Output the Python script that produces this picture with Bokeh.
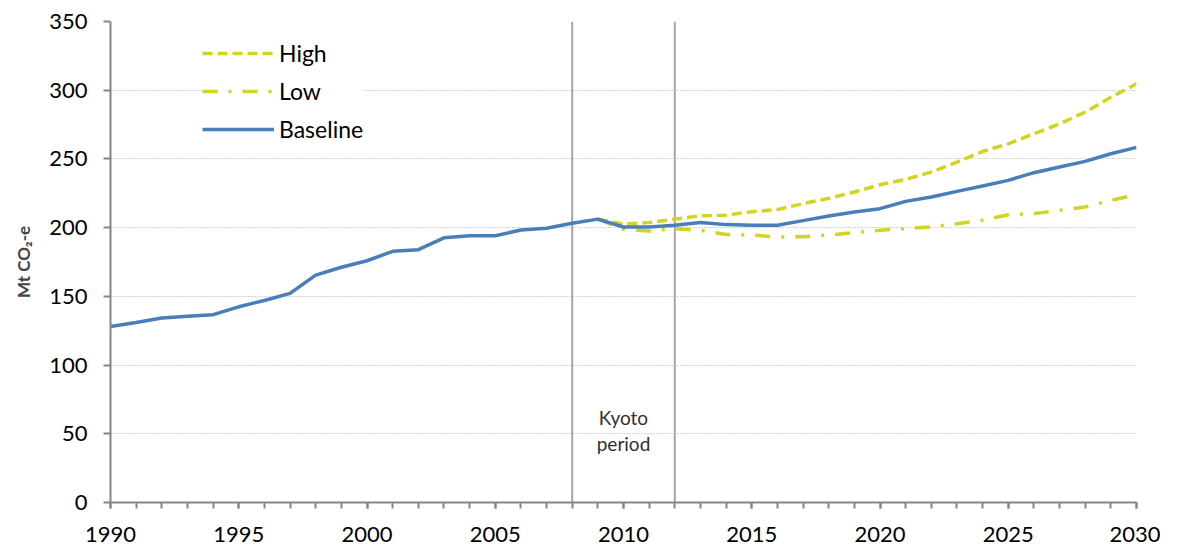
from bokeh.plotting import figure
from bokeh.models import (ColumnDataSource, Span, Legend, LegendItem, Label,
                          SingleIntervalTicker, FixedTicker, Range1d)
from bokeh.embed import file_html
from bokeh.resources import INLINE

# ---- data ----
years_hist = list(range(1990, 2031))
baseline = [128.1, 131.0, 134.2, 135.5, 136.7, 142.4, 147.0, 152.2, 165.5, 171.2,
            175.9, 182.8, 184.0, 192.6, 194.1, 194.1, 198.3, 199.5, 203.2, 206.2,
            200.5, 200.5, 201.7, 203.7, 202.2, 201.7, 201.7, 205.1, 208.5, 211.4,
            213.8, 219.1, 222.3, 226.4, 230.3, 234.4, 240.0, 244.1, 248.2, 253.8,
            258.4]
years_scen = list(range(2009, 2031))
high = [206.2, 202.5, 203.7, 206.2, 208.6, 209.1, 211.6, 213.1, 217.5, 221.3,
        225.9, 231.2, 235.1, 240.4, 247.7, 255.4, 261.0, 268.3, 275.5, 284.0,
        294.9, 304.6]
low = [206.2, 198.8, 197.5, 199.3, 198.0, 195.0, 194.6, 193.1, 193.4, 194.6,
       196.4, 198.1, 199.3, 200.5, 202.9, 205.3, 209.4, 210.2, 212.6, 215.0,
       219.9, 224.0]
kyoto_start = 2008
kyoto_end = 2012
y_ticks = [0, 50, 100, 150, 200, 250, 300, 350]

FONT = "Lato"
BLUE = "#4A7EBB"
YEL = "#D2D41E"

p = figure(width=1160, height=546, output_backend="svg", toolbar_location=None,
           x_range=Range1d(1990, 2030), y_range=Range1d(0, 350),
           min_border_left=110, min_border_right=24, min_border_top=21,
           min_border_bottom=44)
p.outline_line_color = None
p.background_fill_color = "white"

# grid
p.xgrid.grid_line_color = None
p.ygrid.ticker = FixedTicker(ticks=y_ticks[1:])
p.ygrid.grid_line_color = "#A8A8A8"
p.ygrid.grid_line_dash = "1 2"
p.ygrid.grid_line_width = 1

# axes
for ax in (p.xaxis[0], p.yaxis[0]):
    ax.axis_line_color = "#868686"
    ax.axis_line_width = 2
    ax.major_tick_line_color = "#868686"
    ax.minor_tick_line_color = "#868686"
    ax.major_tick_line_width = 2
    ax.minor_tick_line_width = 2
    ax.major_label_text_font = FONT
    ax.major_label_text_font_size = "22px"
    ax.major_label_text_color = "#000000"
    ax.major_tick_in = 0
    ax.minor_tick_in = 0

p.xaxis.ticker = SingleIntervalTicker(interval=5, num_minor_ticks=5)
p.xaxis.major_tick_out = 6
p.xaxis.minor_tick_out = 6
p.xaxis.major_label_standoff = 18

p.yaxis.ticker = FixedTicker(ticks=y_ticks)
p.yaxis.minor_tick_out = 0
p.yaxis.major_tick_out = 7
p.yaxis.major_label_standoff = 16
p.yaxis.axis_label = "Mt CO\u2082-e"
p.yaxis.axis_label_text_font = FONT
p.yaxis.axis_label_text_font_style = "bold"
p.yaxis.axis_label_text_font_size = "17px"
p.yaxis.axis_label_standoff = 12

# Kyoto lines
for yr in (kyoto_start, kyoto_end):
    p.add_layout(Span(location=yr, dimension="height", line_color="#A6A6A6",
                      line_width=2, level="underlay"))

mid = (kyoto_start + kyoto_end) / 2
p.add_layout(Label(x=mid, y=62, text="Kyoto", text_align="center",
                   text_baseline="middle", text_font=FONT, text_font_size="19px",
                   text_color="#303030"))
p.add_layout(Label(x=mid, y=43, text="period", text_align="center",
                   text_baseline="middle", text_font=FONT, text_font_size="19px",
                   text_color="#303030"))

src_b = ColumnDataSource(dict(x=years_hist, y=baseline))
src_s = ColumnDataSource(dict(x=years_scen, h=high, l=low))

r_high = p.line("x", "h", source=src_s, line_color=YEL, line_width=3.5,
                line_dash="10 5")
r_low = p.line("x", "l", source=src_s, line_color=YEL, line_width=3.5,
               line_dash="15 11 3 11")
r_base = p.line("x", "y", source=src_b, line_color=BLUE, line_width=3.5)

legend = Legend(items=[LegendItem(label="High", renderers=[r_high]),
                       LegendItem(label="Low", renderers=[r_low]),
                       LegendItem(label="Baseline", renderers=[r_base])],
                location=(92, 359), orientation="vertical")
legend.label_text_font = FONT
legend.label_text_font_size = "23px"
legend.label_text_color = "#000000"
legend.glyph_width = 72
legend.glyph_height = 20
legend.label_height = 20
legend.spacing = 10
legend.label_standoff = 5
legend.padding = 14
legend.margin = 0
legend.border_line_color = None
legend.background_fill_color = "white"
legend.background_fill_alpha = 1
p.add_layout(legend)

open("out.html", "w").write(file_html(p, INLINE))
